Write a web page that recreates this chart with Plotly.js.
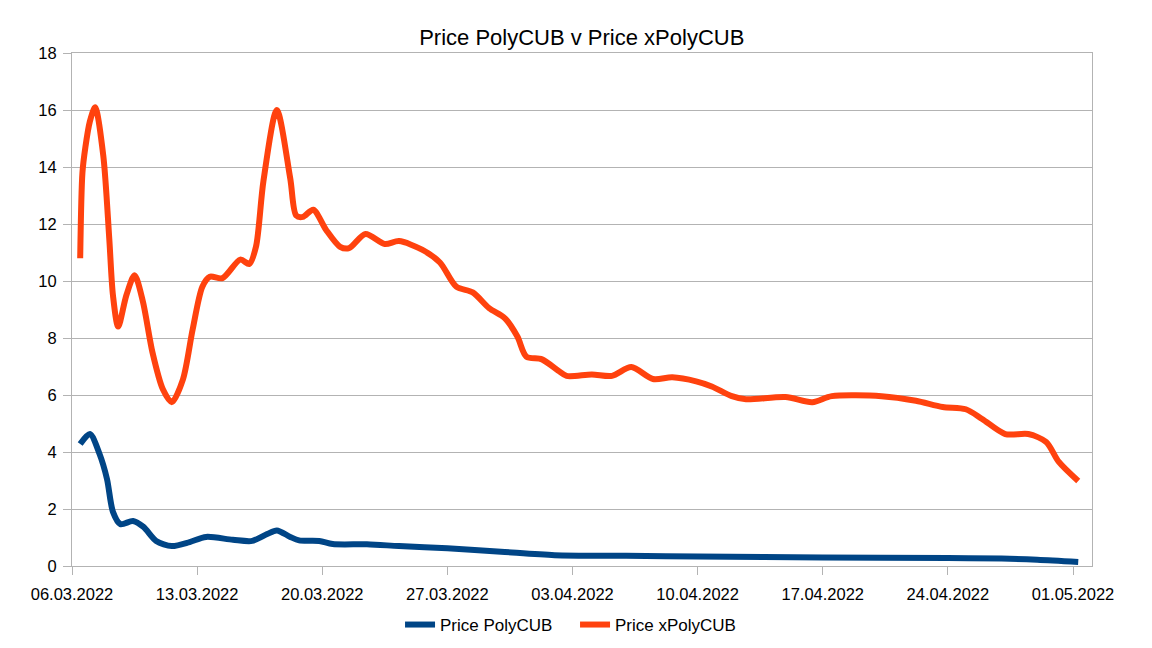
<!DOCTYPE html>
<html>
<head>
<meta charset="utf-8">
<script src="https://cdn.plot.ly/plotly-3.0.1.min.js"></script>
<style>
  html, body { margin: 0; padding: 0; background: #fff; }
  #chart { width: 1152px; height: 648px; }
</style>
</head>
<body>
<div id="chart"></div>
<script>
// Price PolyCUB (blue)
const polyDates = [
  '2022-03-06 11:00', '2022-03-07 00:00', '2022-03-07 13:00', '2022-03-07 23:00',
  '2022-03-08 07:00', '2022-03-08 17:00', '2022-03-09 10:00', '2022-03-10 00:00',
  '2022-03-10 17:00', '2022-03-11 14:00', '2022-03-12 14:00', '2022-03-13 12:00',
  '2022-03-15 00:00', '2022-03-16 02:00', '2022-03-16 22:00', '2022-03-17 11:00',
  '2022-03-18 05:00', '2022-03-18 17:00', '2022-03-19 20:00', '2022-03-20 14:00',
  '2022-03-22 12:00', '2022-03-24 07:00', '2022-03-27 00:00', '2022-03-30 00:00',
  '2022-04-02 00:00', '2022-04-06 00:00', '2022-04-10 00:00', '2022-04-17 00:00',
  '2022-04-24 00:00', '2022-04-27 00:00', '2022-04-29 00:00', '2022-05-01 07:00'
];
const polyPrice = [
  4.28, 4.63, 3.93, 3.05,
  1.9, 1.47, 1.58, 1.37,
  0.88, 0.7, 0.84, 1.02,
  0.92, 0.88, 1.12, 1.25,
  1.02, 0.9, 0.88, 0.77,
  0.76, 0.7, 0.62, 0.5,
  0.38, 0.36, 0.33, 0.3,
  0.28, 0.26, 0.22, 0.14
];

// Price xPolyCUB (orange)
const xpolyDates = [
  '2022-03-06 11:00', '2022-03-06 14:00', '2022-03-06 18:00', '2022-03-07 00:00',
  '2022-03-07 07:00', '2022-03-07 18:00', '2022-03-08 02:00', '2022-03-08 07:00',
  '2022-03-08 14:00', '2022-03-09 01:00', '2022-03-09 12:00', '2022-03-09 23:00',
  '2022-03-10 12:00', '2022-03-11 02:00', '2022-03-11 14:00', '2022-03-12 05:00',
  '2022-03-12 18:00', '2022-03-13 07:00', '2022-03-13 17:00', '2022-03-14 10:00',
  '2022-03-15 10:00', '2022-03-15 22:00', '2022-03-16 07:00', '2022-03-16 17:00',
  '2022-03-17 11:00', '2022-03-18 05:00', '2022-03-18 13:00', '2022-03-18 22:00',
  '2022-03-19 12:00', '2022-03-20 05:00', '2022-03-21 00:00', '2022-03-21 12:00',
  '2022-03-22 10:00', '2022-03-23 12:00', '2022-03-24 07:00', '2022-03-25 14:00',
  '2022-03-26 14:00', '2022-03-27 12:00', '2022-03-28 10:00', '2022-03-29 08:00',
  '2022-03-30 05:00', '2022-03-30 22:00', '2022-03-31 10:00', '2022-04-01 07:00',
  '2022-04-02 05:00', '2022-04-02 16:00', '2022-04-04 02:00', '2022-04-05 05:00',
  '2022-04-06 07:00', '2022-04-07 12:00', '2022-04-08 14:00', '2022-04-09 22:00',
  '2022-04-10 19:00', '2022-04-11 22:00', '2022-04-12 17:00', '2022-04-14 22:00',
  '2022-04-16 10:00', '2022-04-17 12:00', '2022-04-20 07:00', '2022-04-22 05:00',
  '2022-04-23 17:00', '2022-04-25 00:00', '2022-04-25 22:00', '2022-04-27 05:00',
  '2022-04-28 12:00', '2022-04-29 12:00', '2022-04-30 05:00', '2022-05-01 07:00'
];
const xpolyPrice = [
  10.8, 13.8, 14.7, 15.6,
  16.1, 14.4, 11.5, 9.5,
  8.4, 9.5, 10.2, 9.3,
  7.5, 6.2, 5.75, 6.55,
  8.3, 9.8, 10.15, 10.1,
  10.75, 10.6, 11.2, 13.5,
  16.0, 13.6, 12.3, 12.25,
  12.5, 11.8, 11.2, 11.15,
  11.65, 11.3, 11.4, 11.1,
  10.65, 9.8, 9.6, 9.05,
  8.7, 8.05, 7.35, 7.25,
  6.85, 6.67, 6.72, 6.67,
  6.98, 6.56, 6.62, 6.48,
  6.3, 5.96, 5.85, 5.93,
  5.75, 5.96, 5.96, 5.8,
  5.58, 5.5, 5.16, 4.63,
  4.63, 4.35, 3.65, 2.98
];

const seriesNames = ['Price PolyCUB', 'Price xPolyCUB'];
const chartTitle = 'Price PolyCUB v Price xPolyCUB';

const FONT = 'Liberation Sans, Arial, sans-serif';
const GRID = '#b3b3b3';

const traces = [
  {
    x: polyDates, y: polyPrice, type: 'scatter', mode: 'lines',
    name: seriesNames[0],
    line: { color: '#004586', width: 6, shape: 'spline', smoothing: 0.8 }
  },
  {
    x: xpolyDates, y: xpolyPrice, type: 'scatter', mode: 'lines',
    name: seriesNames[1],
    line: { color: '#ff420e', width: 6, shape: 'spline', smoothing: 0.8 }
  }
];

const layout = {
  width: 1152,
  height: 648,
  paper_bgcolor: '#fff',
  plot_bgcolor: '#fff',
  font: { family: FONT, size: 16, color: '#000' },
  title: {
    text: chartTitle,
    font: { family: FONT, size: 22, color: '#000' },
    x: 0.505, xanchor: 'center',
    y: 0.942, yanchor: 'middle'
  },
  margin: { l: 72, r: 60, t: 53, b: 82, autoexpand: false },
  xaxis: {
    type: 'date',
    range: ['2022-03-06 00:00', '2022-05-02 01:30'],
    tick0: '2022-03-06',
    dtick: 7 * 24 * 3600 * 1000,
    tickformat: '%d.%m.%Y',
    ticks: 'outside', ticklen: 8, tickcolor: GRID,
    ticklabelstandoff: 5,
    automargin: false,
    showgrid: false,
    showline: true, linecolor: GRID, linewidth: 1, mirror: true,
    zeroline: false,
    tickfont: { family: FONT, size: 16.5, color: '#000' }
  },
  yaxis: {
    range: [0, 18],
    dtick: 2,
    ticks: 'outside', ticklen: 8, tickcolor: GRID,
    ticklabelstandoff: 3,
    automargin: false,
    showgrid: true, gridcolor: GRID, gridwidth: 1,
    showline: true, linecolor: GRID, linewidth: 1, mirror: true,
    zeroline: false,
    tickfont: { family: FONT, size: 16.5, color: '#000' }
  },
  showlegend: true,
  legend: {
    orientation: 'h',
    x: 0.3216, xanchor: 'left',
    y: -0.115, yanchor: 'middle',
    font: { family: FONT, size: 17, color: '#000' },
    itemwidth: 30,
    entrywidth: 130, entrywidthmode: 'pixels'
  }
};

Plotly.newPlot('chart', traces, layout, { displayModeBar: false, staticPlot: true });
</script>
</body>
</html>
